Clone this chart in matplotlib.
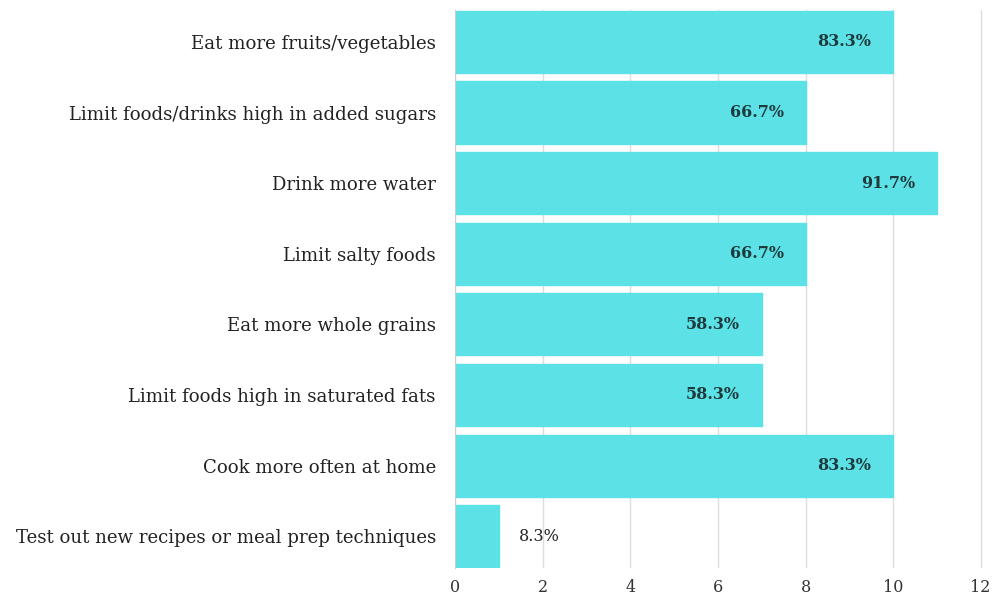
import numpy as np
import matplotlib.pyplot as plt

categories = [
    "Eat more fruits/vegetables",
    "Limit foods/drinks high in added sugars",
    "Drink more water",
    "Limit salty foods",
    "Eat more whole grains",
    "Limit foods high in saturated fats",
    "Cook more often at home",
    "Test out new recipes or meal prep techniques",
]
counts = [10, 8, 11, 8, 7, 7, 10, 1]
percent_labels = ["83.3%", "66.7%", "91.7%", "66.7%", "58.3%", "58.3%", "83.3%", "8.3%"]
x_ticks = [0, 2, 4, 6, 8, 10, 12]

plt.rcParams['font.family'] = ['DejaVu Serif']

fig = plt.figure(figsize=(9.94, 5.96), dpi=100)
ax = fig.add_axes([0.458, 0.047, 0.533, 0.936])

y = np.arange(len(categories))
bars = ax.barh(y, counts, height=0.88, color='#5CE1E6', edgecolor='#5CE1E6',
               linewidth=1.0, zorder=2)
for b in bars:
    b.set_joinstyle('round')

for yi, val, lab in zip(y, counts, percent_labels):
    if val >= 3:
        ax.text(val - 0.5, yi, lab, ha='right', va='center', fontsize=11.5,
                fontweight='semibold', color='#1f3a3d', zorder=3)
    else:
        ax.text(val + 0.45, yi, lab, ha='left', va='center', fontsize=11.5,
                color='#222222', zorder=3)

ax.set_yticks(y)
ax.set_yticklabels(categories, fontsize=13.1, color='#222222')
ax.set_ylim(len(categories) - 0.55, -0.45)
ax.set_xlim(0, 12.1)
ax.set_xticks(x_ticks)
ax.set_xticklabels([str(t) for t in x_ticks], fontsize=11.5, color='#333333')
ax.tick_params(length=0, pad=8)
ax.tick_params(axis='y', pad=14)
ax.grid(axis='x', color='#dddddd', linewidth=1, zorder=0)
for s in ['top', 'right', 'bottom']:
    ax.spines[s].set_visible(False)
ax.spines['left'].set_color('#cccccc')

fig.savefig('out.png', dpi=100)
